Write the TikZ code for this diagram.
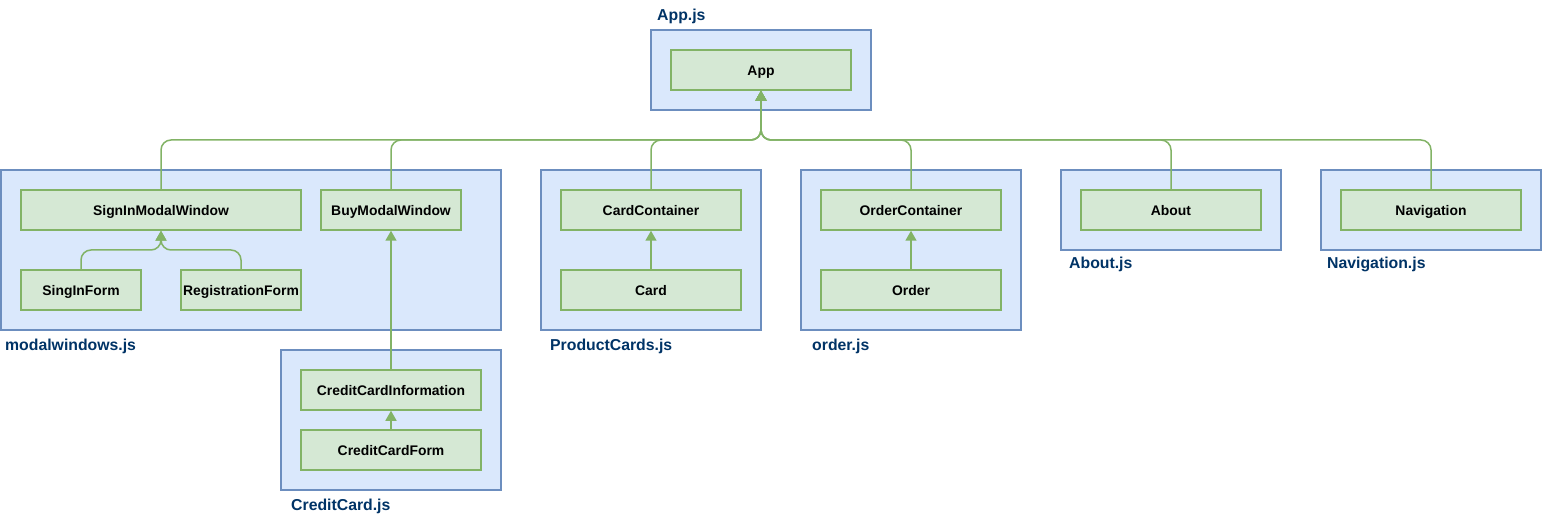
\documentclass[tikz,border=0pt]{standalone}
\usepackage{fontspec}
\setmainfont{Liberation Sans}
\usetikzlibrary{arrows.meta}
\definecolor{outfill}{HTML}{DAE8FC}
\definecolor{outdraw}{HTML}{6C8EBF}
\definecolor{infill}{HTML}{D5E8D4}
\definecolor{indraw}{HTML}{82B366}
\definecolor{lblcol}{HTML}{003366}
\tikzset{
  filebox/.style={draw=outdraw, fill=outfill, line width=1.5pt, inner sep=0pt},
  compbox/.style={draw=indraw, fill=infill, line width=1.5pt, inner sep=0pt,
     minimum height=40pt, text height=12pt, text depth=1.5pt,
     font=\fontsize{13.9}{16}\selectfont\bfseries},
  filelabel/.style={anchor=base west, inner sep=0pt, text=lblcol,
     font=\fontsize{15.8}{18}\selectfont\bfseries},
  link/.style={draw=indraw, line width=1.5pt, rounded corners=10pt,
     -{Triangle[length=10pt,width=11pt]}}
}
\begin{document}
\begin{tikzpicture}[x=1pt,y=-1pt]
\useasboundingbox (0,0) rectangle (1542,521);
% file boxes
\node[filebox, minimum width=220pt, minimum height=80pt] (appjs) at (761,70) {};
\node[filebox, minimum width=500pt, minimum height=160pt] (modaljs) at (251,250) {};
\node[filebox, minimum width=220pt, minimum height=140pt] (ccjs) at (391,420) {};
\node[filebox, minimum width=220pt, minimum height=160pt] (pcjs) at (651,250) {};
\node[filebox, minimum width=220pt, minimum height=160pt] (ordjs) at (911,250) {};
\node[filebox, minimum width=220pt, minimum height=80pt] (aboutjs) at (1171,210) {};
\node[filebox, minimum width=220pt, minimum height=80pt] (navjs) at (1431,210) {};
% labels
\node[filelabel] (lapp) at (657,21) {App.js};
\node[filelabel] (lmodal) at (5,350) {modalwindows.js};
\node[filelabel] (lcc) at (291,510) {CreditCard.js};
\node[filelabel] (lpc) at (550,350) {ProductCards.js};
\node[filelabel] (lord) at (812,350) {order.js};
\node[filelabel] (labout) at (1069,269) {About.js};
\node[filelabel] (lnav) at (1327,269) {Navigation.js};
% components
\node[compbox, minimum width=180pt] (app) at (761,70) {App};
\node[compbox, minimum width=280pt] (signin) at (161,210) {SignInModalWindow};
\node[compbox, minimum width=140pt] (buy) at (391,210) {BuyModalWindow};
\node[compbox, minimum width=120pt] (singform) at (81,290) {SingInForm};
\node[compbox, minimum width=120pt] (regform) at (241,290) {RegistrationForm};
\node[compbox, minimum width=180pt] (ccinfo) at (391,390) {CreditCardInformation};
\node[compbox, minimum width=180pt] (ccform) at (391,450) {CreditCardForm};
\node[compbox, minimum width=180pt] (cardcont) at (651,210) {CardContainer};
\node[compbox, minimum width=180pt] (card) at (651,290) {Card};
\node[compbox, minimum width=180pt] (ordcont) at (911,210) {OrderContainer};
\node[compbox, minimum width=180pt] (order) at (911,290) {Order};
\node[compbox, minimum width=180pt] (about) at (1171,210) {About};
\node[compbox, minimum width=180pt] (nav) at (1431,210) {Navigation};
% bus coordinates
\coordinate (bus) at (761,140);
\coordinate (sbus) at (161,250);
% connectors to App
\foreach \n in {signin,buy,cardcont,ordcont,about,nav}{
  \draw[link] (\n.north) |- (bus) -- (app.south);
}
% sign-in forms
\draw[link] (singform.north) |- (sbus) -- (signin.south);
\draw[link] (regform.north) |- (sbus) -- (signin.south);
% other links
\draw[link] (ccinfo.north) -- (buy.south);
\draw[link] (ccform.north) -- (ccinfo.south);
\draw[link] (card.north) -- (cardcont.south);
\draw[link] (order.north) -- (ordcont.south);
\end{tikzpicture}
\end{document}
